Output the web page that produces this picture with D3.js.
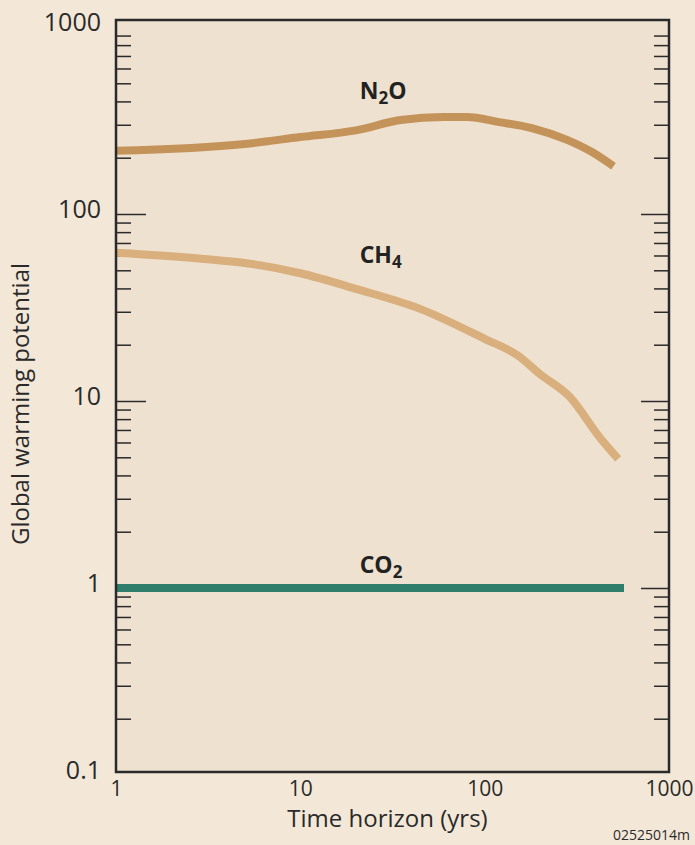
<!DOCTYPE html>
<html>
<head>
<meta charset="utf-8">
<script src="https://cdn.jsdelivr.net/npm/d3@7"></script>
<style>
  body { margin: 0; background: #f3e8d8; }
  svg { display: block; font-family: "Open Sans", sans-serif; }
</style>
</head>
<body>
<div id="chart"></div>
<script>
// time horizon (yrs) and GWP values
const years_n2o = [1, 5, 10, 20, 35, 60, 80, 120, 180, 280, 380, 500];
const gwp_n2o = [218, 237, 258, 280, 318, 330, 330, 310, 288, 249, 215, 180];

const years_ch4 = [1, 3, 5, 10, 20, 45, 100, 150, 200, 290, 420, 530];
const gwp_ch4 = [62, 57.5, 54.7, 48.2, 39.8, 31, 21.5, 17.6, 13.9, 10.5, 6.4, 4.9];

const years_co2 = [1, 570];
const gwp_co2 = [1, 1];

const gas_names = ["N2O", "CH4", "CO2"];
const gas_colors = ["#c4935a", "#d8af7d", "#2f7d6b"];
const label_years = [21, 21, 21];
const label_gwp = [410, 54.7, 1.2];

const y_labels = [1000, 100, 10, 1, 0.1];
const y_major = [100, 10, 1];
const x_labels = [1, 10, 100, 1000];

function drawChart() {
    const margin = {top: 20, right: 26, bottom: 73, left: 116},
        width = 695 - margin.left - margin.right,
        height = 845 - margin.top - margin.bottom;

    const svg_root = d3.select("#chart")
        .append("svg")
        .attr("width", 695)
        .attr("height", 845);

    const svg = svg_root.append("g")
        .attr("transform", `translate(${margin.left}, ${margin.top})`);

    const x = d3.scaleLog()
        .domain([1, 1000])
        .range([0, width]);

    const y = d3.scaleLog()
        .domain([0.1, 1000])
        .range([height + 3, 7]);

    // plot background
    svg.append("rect")
        .attr("width", width)
        .attr("height", height)
        .attr("fill", "#efe1cf");

    // minor ticks: 2..9 in each decade
    const minor = [];
    for (let d = 0.1; d < 1000; d *= 10) {
        for (let k = 2; k <= 9; k++) minor.push(+(k * d).toPrecision(2));
    }

    function tickAxis(axis, vals, size) {
        return axis.scale(y).tickValues(vals).tickSize(-size).tickFormat("");
    }
    const styleTicks = (g) => {
        g.select(".domain").remove();
        g.selectAll("line").attr("stroke", "#2a2a2a").attr("stroke-width", 1.5);
    };

    svg.append("g").call(tickAxis(d3.axisLeft(), minor, 15)).call(styleTicks);
    svg.append("g").call(tickAxis(d3.axisLeft(), y_major, 30)).call(styleTicks);
    svg.append("g").attr("transform", `translate(${width}, 0)`)
        .call(tickAxis(d3.axisRight(), minor, 15)).call(styleTicks);
    svg.append("g").attr("transform", `translate(${width}, 0)`)
        .call(tickAxis(d3.axisRight(), y_major, 28)).call(styleTicks);

    // y labels
    const yLab = svg.append("g")
        .call(d3.axisLeft(y).tickValues(y_labels).tickSize(0).tickPadding(15)
            .tickFormat((d) => d));
    yLab.select(".domain").remove();
    yLab.selectAll("text")
        .attr("dy", "0.12em")
        .attr("fill", "#2a2a2a")
        .style("font-size", "25px")
        .style("font-family", "'Open Sans', sans-serif");

    // x labels
    const xLab = svg.append("g")
        .attr("transform", `translate(0, ${height})`)
        .call(d3.axisBottom(x).tickValues(x_labels).tickSize(0).tickPadding(9)
            .tickFormat((d) => d));
    xLab.select(".domain").remove();
    xLab.selectAll("text")
        .attr("fill", "#2a2a2a")
        .style("font-size", "21px")
        .style("font-family", "'Open Sans', sans-serif");

    // lines
    const line = d3.line()
        .curve(d3.curveMonotoneX)
        .x((d) => x(d[0]))
        .y((d) => y(d[1]));

    const series = [
        d3.zip(years_n2o, gwp_n2o),
        d3.zip(years_ch4, gwp_ch4),
        d3.zip(years_co2, gwp_co2)
    ];

    svg.selectAll(".gas")
        .data(series)
        .join("path")
        .attr("class", "gas")
        .attr("d", line)
        .attr("fill", "none")
        .attr("stroke", (d, i) => gas_colors[i])
        .attr("stroke-width", 8)
        .attr("stroke-linejoin", "round");

    // frame
    svg.append("rect")
        .attr("width", width)
        .attr("height", height)
        .attr("fill", "none")
        .attr("stroke", "#2a2a2a")
        .attr("stroke-width", 2.5);

    // series labels with subscripts
    gas_names.forEach((name, i) => {
        const t = svg.append("text")
            .attr("x", x(label_years[i]))
            .attr("y", y(label_gwp[i]))
            .attr("fill", "#222")
            .style("font-size", "23px")
            .style("font-weight", "bold");
        const m = name.match(/^([A-Z]+)(\d)(.*)$/);
        t.append("tspan").text(m[1]);
        t.append("tspan").text(m[2]).attr("dy", 5).style("font-size", "17px");
        if (m[3]) t.append("tspan").text(m[3]).attr("dy", -5);
    });

    // axis titles
    svg.append("text")
        .attr("x", width / 2 - 5)
        .attr("y", height + 55)
        .attr("text-anchor", "middle")
        .attr("fill", "#2a2a2a")
        .style("font-size", "24px")
        .text("Time horizon (yrs)");

    svg.append("text")
        .attr("transform", `translate(${-margin.left + 29}, ${height / 2 + 8}) rotate(-90)`)
        .attr("text-anchor", "middle")
        .attr("fill", "#2a2a2a")
        .style("font-size", "24px")
        .text("Global warming potential");

    svg_root.append("text")
        .attr("x", 690)
        .attr("y", 840)
        .attr("text-anchor", "end")
        .attr("fill", "#2a2a2a")
        .style("font-size", "14px")
        .text("02525014m");
}
drawChart();
</script>
</body>
</html>
